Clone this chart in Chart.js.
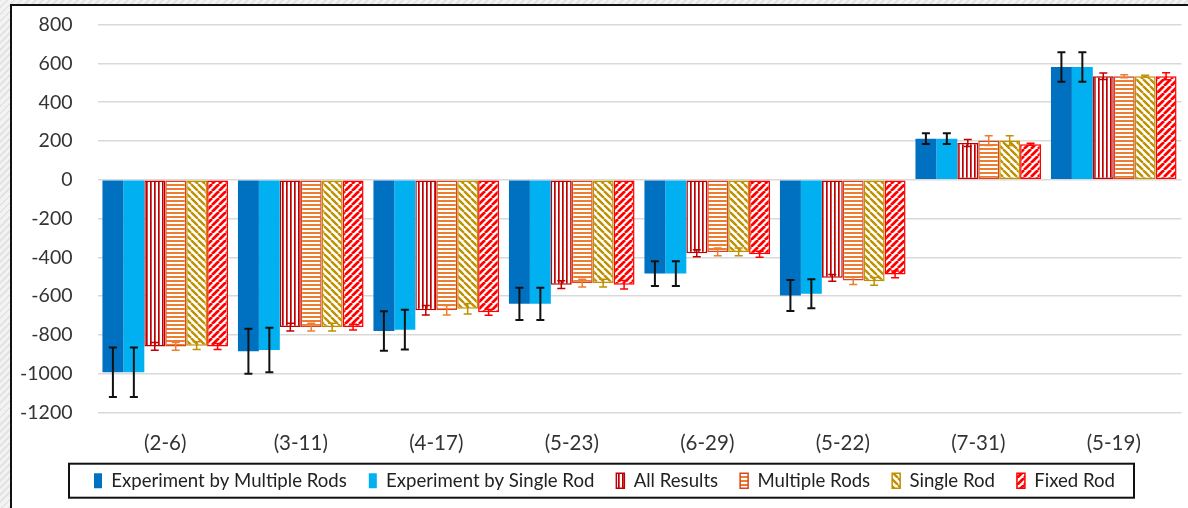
<!DOCTYPE html>
<html>
<head>
<meta charset="utf-8">
<script src="https://cdn.jsdelivr.net/npm/chart.js@4.4.1/dist/chart.umd.min.js"></script>
<style>
  html, body { margin: 0; padding: 0; }
  body {
    width: 1188px; height: 508px; overflow: hidden; position: relative;
    background: repeating-linear-gradient(-45deg, #f3f3f3 0 3px, #e3e3e3 3px 5px);
  }
  #frame {
    position: absolute; left: 10px; top: 4px; width: 1300px; height: 600px; overflow: hidden;
    background: #fff; border-left: 2px solid #111; border-top: 2px solid #111;
  }
  #wrap { position: absolute; left: -10px; top: -18px; width: 1186px; height: 514px; }
</style>
</head>
<body>
<div id="frame"><div id="wrap"><canvas id="chart"></canvas></div></div>
<script>
const categories = ['(2-6)', '(3-11)', '(4-17)', '(5-23)', '(6-29)', '(5-22)', '(7-31)', '(5-19)']

const expMultiple  = [-993, -885, -780, -640, -484, -597, 212, 582]
const expSingle    = [-993, -878, -773, -640, -484, -588, 212, 582]
const allResults   = [-860, -760, -673, -541, -379, -506, 190, 534]
const multipleRods = [-860, -760, -673, -533, -372, -520, 202, 534]
const singleRod    = [-856, -760, -665, -533, -372, -524, 202, 534]
const fixedRod     = [-860, -760, -684, -541, -384, -488, 183, 534]

const expMultipleErr  = [128, 116, 102, 83, 64, 80, 28, 76]
const expSingleErr    = [128, 115, 103, 83, 64, 75, 28, 76]
const allResultsErr   = [20, 20, 25, 20, 18, 18, 18, 17]
const multipleRodsErr = [20, 20, 25, 20, 20, 20, 25, 8]
const singleRodErr    = [20, 20, 27, 20, 20, 20, 25, 5]
const fixedRodErr     = [15, 15, 15, 22, 15, 18, 5, 18]

const yTicks = { min: -1200, max: 800, step: 200 }

// canvas hatch patterns, like Excel's pattern fills
function makePattern(kind, color) {
  const s = kind === 'vert' || kind === 'horiz' ? 4 : 7
  const c = document.createElement('canvas')
  c.width = s; c.height = s
  const g = c.getContext('2d')
  g.fillStyle = '#fff'
  g.fillRect(0, 0, s, s)
  g.fillStyle = color
  g.strokeStyle = color
  if (kind === 'vert') g.fillRect(0, 0, 1.7, s)
  else if (kind === 'horiz') g.fillRect(0, 0, s, 2)
  else {
    g.lineWidth = kind === 'fwd' ? 2.8 : 2.4
    g.beginPath()
    for (const x of [-s, 0, s]) {
      if (kind === 'back') { g.moveTo(x, 0); g.lineTo(x + s, s) }
      else { g.moveTo(x, s); g.lineTo(x + s, 0) }
    }
    g.stroke()
  }
  return document.getElementById('chart').getContext('2d').createPattern(c, 'repeat')
}

const errorBars = {
  id: 'errorBars',
  afterDatasetsDraw(chart) {
    const { ctx } = chart
    const y = chart.scales.y
    chart.data.datasets.forEach((ds, i) => {
      const meta = chart.getDatasetMeta(i)
      if (meta.hidden) return
      ctx.save()
      ctx.strokeStyle = ds.errorColor
      ctx.lineWidth = ds.errorWidth
      meta.data.forEach((bar, j) => {
        const v = ds.data[j], e = ds.errors[j]
        const top = y.getPixelForValue(v + e), bot = y.getPixelForValue(v - e)
        ctx.beginPath()
        ctx.moveTo(bar.x, top); ctx.lineTo(bar.x, bot)
        ctx.moveTo(bar.x - 4, top); ctx.lineTo(bar.x + 4, top)
        ctx.moveTo(bar.x - 4, bot); ctx.lineTo(bar.x + 4, bot)
        ctx.stroke()
      })
      ctx.restore()
    })
  }
}

const legendFrame = {
  id: 'legendFrame',
  afterDraw(chart) {
    const boxes = chart.legend && chart.legend.legendHitBoxes
    if (!boxes || !boxes.length) return
    const first = boxes[0], last = boxes[boxes.length - 1]
    const cy = first.top + first.height / 2
    const l = first.left - 25, r = last.left + last.width + 19
    const ctx = chart.ctx
    ctx.save()
    ctx.strokeStyle = '#111'
    ctx.lineWidth = 2
    ctx.strokeRect(l, cy - 17, r - l, 34)
    ctx.restore()
  }
}

const bg = {
  id: 'bg',
  beforeDraw(chart) {
    const ctx = chart.ctx
    ctx.save()
    ctx.fillStyle = '#fff'
    ctx.fillRect(0, 0, chart.width, chart.height)
    ctx.restore()
  }
}

// tick labels may spill outside their (fixed size) scale box
const noLabelClip = s => { s._computeLabelArea = () => undefined }

new Chart(document.getElementById('chart'), {
  type: 'bar',
  data: {
    labels: categories,
    datasets: [
      { label: 'Experiment by Multiple Rods', data: expMultiple, errors: expMultipleErr,
        backgroundColor: '#0070C0', borderWidth: 0, errorColor: '#111', errorWidth: 2 },
      { label: 'Experiment by Single Rod', data: expSingle, errors: expSingleErr,
        backgroundColor: '#00B0F0', borderWidth: 0, errorColor: '#111', errorWidth: 2 },
      { label: 'All Results', data: allResults, errors: allResultsErr,
        backgroundColor: makePattern('vert', '#C00000'), borderColor: '#C00000', borderWidth: 1.5,
        errorColor: '#C00000', errorWidth: 1.5 },
      { label: 'Multiple Rods', data: multipleRods, errors: multipleRodsErr,
        backgroundColor: makePattern('horiz', '#ED7D31'), borderColor: '#D9441E', borderWidth: 1.5,
        errorColor: '#ED7D31', errorWidth: 1.5 },
      { label: 'Single Rod', data: singleRod, errors: singleRodErr,
        backgroundColor: makePattern('back', '#BF9000'), borderColor: '#BF9000', borderWidth: 1.5,
        errorColor: '#BF9000', errorWidth: 1.5 },
      { label: 'Fixed Rod', data: fixedRod, errors: fixedRodErr,
        backgroundColor: makePattern('fwd', '#FF0000'), borderColor: '#FF0000', borderWidth: 1.5,
        errorColor: '#FF0000', errorWidth: 1.5 },
    ]
  },
  options: {
    responsive: true, maintainAspectRatio: false, animation: false,
    datasets: { bar: { categoryPercentage: 0.927, barPercentage: 1, borderSkipped: false } },
    layout: { padding: { top: 16, right: 6.5, bottom: 2, left: 25.5 } },
    plugins: {
      tooltip: { enabled: false },
      legend: {
        position: 'bottom',
        labels: { font: { family: 'Lato', size: 18.6 }, color: '#222', boxWidth: 8, boxHeight: 15, padding: 22 }
      }
    },
    scales: {
      x: {
        grid: { display: false, drawTicks: false },
        border: { display: false },
        ticks: { font: { family: 'Lato', size: 20.5 }, color: '#333', padding: 19 },
        afterFit: s => { s.height = 37; noLabelClip(s) }
      },
      y: {
        min: yTicks.min, max: yTicks.max,
        grid: { color: '#d9d9d9', lineWidth: 1.5, drawTicks: false },
        border: { display: false },
        ticks: { font: { family: 'Lato', size: 19.5 }, color: '#333', stepSize: yTicks.step, padding: 25,
          callback: v => String(v) },
        afterFit: s => { s.width = 70; noLabelClip(s) }
      }
    }
  },
  plugins: [bg, errorBars, legendFrame]
})
</script>
</body>
</html>
